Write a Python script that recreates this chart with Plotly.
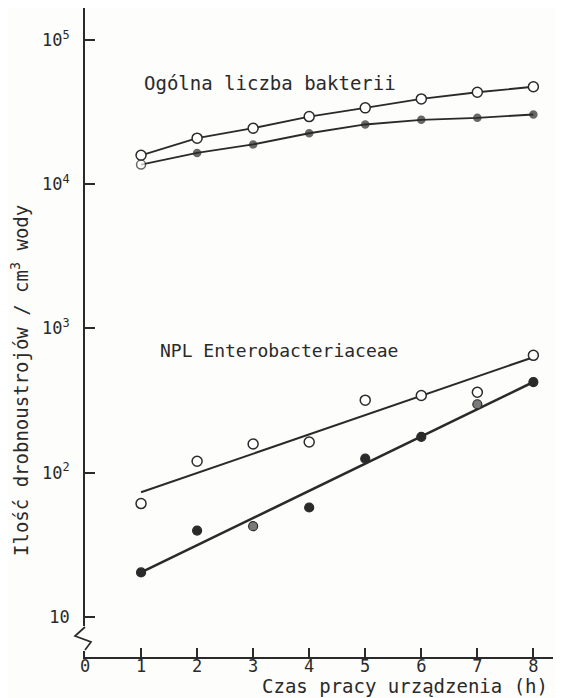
import plotly.graph_objects as go

# ---------------- data ----------------
hours = [1, 2, 3, 4, 5, 6, 7, 8]

# Ogólna liczba bakterii (total bacterial count)
total_open = [15900, 20900, 24500, 29500, 33900, 39100, 43500, 47500]
total_filled = [13700, 16500, 18900, 22600, 26000, 28000, 28900, 30500]

# NPL Enterobacteriaceae
entero_open = [61, 120, 158, 163, 318, 343, 361, 651]
entero_filled = [20.3, 39.6, 42.5, 57.3, 125, 177, 298, 425]

# fitted straight lines drawn through the Enterobacteriaceae points (end points)
fit_hours = [1, 8]
fit_open = [73, 632]
fit_filled = [20.3, 425]

x_ticks = [0, 1, 2, 3, 4, 5, 6, 7, 8]
y_ticks = [10, 100, 1000, 10000, 100000]
y_tick_text = ["10", "10<sup>2</sup>", "10<sup>3</sup>", "10<sup>4</sup>", "10<sup>5</sup>"]

INK = "#2a2a2a"
GREY = "#7a7a7a"
BG = "#fdfdfb"
FONT = "DejaVu Sans Mono"

fig = go.Figure()

# total count - open circles
fig.add_trace(go.Scatter(
    x=hours, y=total_open, mode="lines+markers",
    line=dict(color=INK, width=1.8),
    marker=dict(symbol="circle", size=10, color="white",
                line=dict(color=INK, width=1.5)),
    cliponaxis=False, showlegend=False))

# total count - filled circles (first one drawn open)
fig.add_trace(go.Scatter(
    x=hours, y=total_filled, mode="lines+markers",
    line=dict(color=INK, width=1.8),
    marker=dict(symbol="circle", size=[9, 7, 7, 7, 7, 7, 7, 7],
                color=["white"] + [INK] * 7,
                line=dict(color=INK, width=1.5)),
    cliponaxis=False, showlegend=False))

# Enterobacteriaceae fitted lines
fig.add_trace(go.Scatter(
    x=fit_hours, y=fit_open, mode="lines",
    line=dict(color=INK, width=2.0), showlegend=False))
fig.add_trace(go.Scatter(
    x=fit_hours, y=fit_filled, mode="lines",
    line=dict(color=INK, width=2.6), showlegend=False))

# Enterobacteriaceae points
fig.add_trace(go.Scatter(
    x=hours, y=entero_open, mode="markers",
    marker=dict(symbol="circle", size=10, color="white",
                line=dict(color=INK, width=1.5)),
    showlegend=False))
fig.add_trace(go.Scatter(
    x=hours, y=entero_filled, mode="markers",
    marker=dict(symbol="circle", size=9,
                color=[INK, INK, GREY, INK, INK, INK, GREY, INK],
                line=dict(color=INK, width=1.2)),
    showlegend=False))

# the page body has an 8px margin: the figure starts at page (8, 8)
OFF = 8
W, H = 555, 690
L, R, T, B = 77, 10, 0, 41
pw, ph = W - L - R, H - T - B


def px(xp):
    """page x pixel -> paper x"""
    return (xp - OFF - L) / pw


def py(yp):
    """page y pixel -> paper y"""
    return (H - B - (yp - OFF)) / ph


# axis-break decoration on the y axis (mask + zig-zag), in paper units
zig = [(85, 627), (75, 636), (91, 642), (85, 650)]
zig_path = "M " + " L ".join(f"{px(a):.5f},{py(b):.5f}" for a, b in zig)

shapes = [
    dict(type="rect", xref="paper", yref="paper",
         x0=px(81), x1=px(89), y0=py(626), y1=py(651),
         fillcolor=BG, line=dict(width=0), layer="above"),
    dict(type="path", xref="paper", yref="paper", path=zig_path,
         line=dict(color=INK, width=1.7), layer="above"),
]

fig.update_layout(
    width=W, height=H,
    margin=dict(l=L, r=R, t=T, b=B, autoexpand=False),
    paper_bgcolor=BG, plot_bgcolor=BG,
    font=dict(family=FONT, color=INK, size=16),
    xaxis=dict(
        range=[0, 8.35], showgrid=False, zeroline=False,
        showline=True, linecolor=INK, linewidth=1.8,
        ticks="inside", ticklen=9, tickwidth=1.5, tickcolor=INK,
        tickvals=x_ticks, ticktext=[str(v) for v in x_ticks],
        tickfont=dict(family=FONT, size=17, color=INK),
        ticklabelstandoff=-7,
    ),
    yaxis=dict(
        type="log", range=[0.721, 5.223], showgrid=False, zeroline=False,
        showline=True, linecolor=INK, linewidth=1.8,
        ticks="inside", ticklen=10, tickwidth=1.5, tickcolor=INK,
        tickvals=y_ticks, ticktext=y_tick_text,
        tickfont=dict(family=FONT, size=17, color=INK),
        ticklabelstandoff=10,
    ),
    shapes=shapes,
    annotations=[
        dict(text="Ogólna liczba bakterii", xref="paper", yref="paper",
             x=px(270), y=py(83), xanchor="center", yanchor="middle",
             showarrow=False, font=dict(family=FONT, size=19, color=INK)),
        dict(text="NPL Enterobacteriaceae", xref="paper", yref="paper",
             x=px(279), y=py(350), xanchor="center", yanchor="middle",
             showarrow=False, font=dict(family=FONT, size=18, color=INK)),
        dict(text="Ilość drobnoustrojów / cm<sup>3</sup> wody",
             xref="paper", yref="paper", x=px(20), y=py(381),
             xanchor="center", yanchor="middle",
             textangle=-90, showarrow=False,
             font=dict(family=FONT, size=19, color=INK)),
        dict(text="Czas pracy urządzenia (h)", xref="paper", yref="paper",
             x=px(405), y=py(686), xanchor="center", yanchor="middle",
             showarrow=False, font=dict(family=FONT, size=19, color=INK)),
    ],
)

fig.write_html("out.html")
